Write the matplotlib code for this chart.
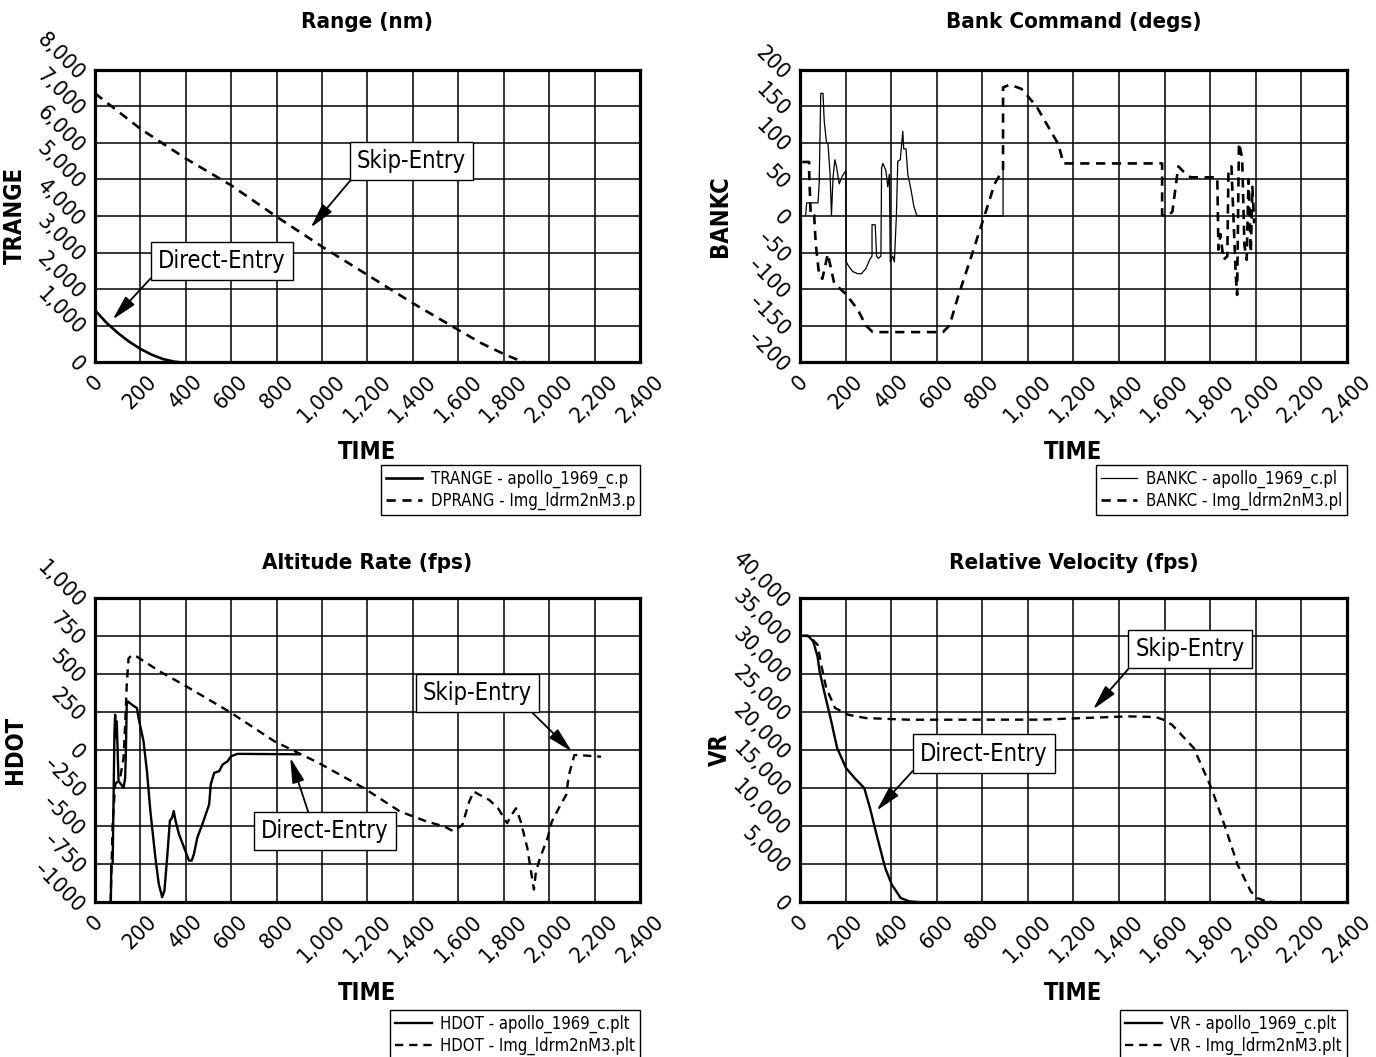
import matplotlib
matplotlib.use("Agg")
from matplotlib import pyplot as plt

plt.rcParams["font.family"] = ["DejaVu Sans"]
plt.rcParams["font.stretch"] = "condensed"

# --- Range (nm) ---
t_trange = [0, 50, 100, 150, 200, 250, 300, 350, 365]
trange = [1420, 1080, 800, 560, 360, 200, 80, 10, 0]
t_dprang = [0, 200, 400, 600, 800, 1000, 1200, 1400, 1600, 1700, 1800, 1850, 1890]
dprang = [7360, 6390, 5573, 4840, 3980, 3160, 2386, 1610, 880, 520, 220, 90, 0]

# --- Bank Command (degs) ---
t_bank_a = [25, 29, 40, 79, 84, 91, 101, 106, 116, 123, 132, 138, 145, 153, 160, 172, 186,
            201, 203, 212, 231, 253, 270, 289, 307, 316, 316, 330, 336, 343, 355, 358, 364,
            377, 385, 392, 396, 407, 414, 423, 429, 440, 451, 455, 465, 473, 487, 499, 510,
            515, 891, 891]
bank_a = [1, 18, 18, 18, 44, 168, 168, 131, 101, 98, 57, 1, 53, 77, 68, 44, 55,
          62, -63, -68, -76, -79, -79, -72, -59, -55, -12, -12, -55, -58, -55, 66, 72,
          62, 40, 57, -63, -55, -63, 1, 75, 77, 116, 92, 92, 57, 36, 14, 3,
          0, 0, 65]
t_bank_b = [10, 40, 40, 47, 62, 69, 84, 98, 122, 150, 201, 253, 289, 319, 627, 656, 693,
            752, 808, 854, 891, 891, 921, 972, 1038, 1097, 1134, 1156, 1589, 1589, 1618,
            1634, 1660, 1685, 1714, 1831, 1836, 1845, 1858, 1875, 1880, 1893, 1912, 1918,
            1926, 1940, 1950, 1960, 1968, 1978, 1985, 1993]
bank_b = [74, 74, 62, 1, 1, -38, -81, -86, -52, -92, -107, -128, -150, -159, -159, -150, -111,
          -55, -1, 44, 64, 176, 180, 174, 150, 118, 98, 72, 72, 1, 1,
          6, 68, 60, 53, 53, -46, -25, -60, -55, 62, 68, -80, -108,
          100, 80, -40, -60, 50, -50, 40, -10]

# --- Altitude Rate (fps) ---
t_hdot_a = [70, 72, 78, 86, 89, 93, 96, 104, 126, 133, 136, 140, 145, 163, 185, 192, 214,
            229, 244, 266, 281, 296, 306, 318, 330, 340, 347, 355, 370, 392, 414, 426, 436,
            451, 473, 503, 510, 525, 547, 562, 584, 599, 628, 900]
hdot_a = [-1000, -749, -749, 123, 232, 79, 188, -204, -248, -183, -29, 298, 320, 298, 276, 210, 57,
          -139, -401, -706, -881, -968, -925, -706, -466, -444, -401, -466, -553, -640, -727, -727, -684,
          -575, -488, -357, -226, -150, -139, -96, -74, -41, -25, -28]
t_hdot_b = [69, 78, 89, 111, 126, 133, 140, 148, 163, 185, 288, 392, 591, 791, 880, 988, 1185,
            1343, 1461, 1539, 1579, 1618, 1648, 1668, 1700, 1736, 1775, 1815, 1835, 1854, 1875,
            1904, 1933, 1942, 1960, 1993, 2012, 2050, 2075, 2087, 2111, 2130, 2229]
hdot_b = [-1000, -488, -227, -183, -52, 166, 428, 603, 625, 614, 515, 428, 253, 57, -8, -87, -251,
          -404, -470, -503, -535, -492, -339, -273, -300, -328, -383, -481, -426, -383, -470,
          -645, -918, -798, -710, -579, -470, -361, -295, -164, -33, -33, -44]

# --- Relative Velocity (fps) ---
t_vr_a = [0, 35, 58, 77, 86, 106, 134, 163, 202, 240, 282, 307, 336, 374, 403, 442, 480, 518]
vr_a = [35040, 35040, 34300, 32300, 30350, 27700, 24200, 20260, 17630, 16300, 15000, 12370,
        8860, 4470, 2280, 526, 88, 0]
t_vr_b = [0, 40, 77, 96, 115, 154, 211, 288, 480, 1056, 1440, 1560, 1594, 1632, 1728, 1805,
          1862, 1920, 1978, 2006, 2040, 2074]
vr_b = [35040, 35000, 33860, 30790, 28160, 25530, 24650, 24210, 23990, 24000, 24430, 24350,
        24000, 23330, 20260, 15000, 10180, 4910, 1400, 526, 150, 0]

time_ticks = list(range(0, 2401, 200))
dash = (0, (3.5, 2.5))


def fmt(v):
    s = f"{abs(v):,}"
    return ("\u2013" + s) if v < 0 else s


def setup(ax, title, ylabel, yticks, ylabels, legend_labels, lines, title_y, xlab_y, leg_y):
    ax.set_xlim(0, 2400)
    ax.set_ylim(yticks[0], yticks[-1])
    ax.set_xticks(time_ticks)
    ax.set_xticklabels([fmt(v) for v in time_ticks], rotation=45, ha="center", va="top", fontsize=16)
    ax.set_yticks(yticks)
    ax.set_yticklabels(ylabels, rotation=-45, rotation_mode="anchor", ha="right", va="top", fontsize=16)
    ax.tick_params(axis="x", length=0, pad=7)
    ax.tick_params(axis="y", length=0, pad=5)
    ax.grid(True, color="black", lw=1.1)
    ax.set_axisbelow(True)
    for s in ax.spines.values():
        s.set_linewidth(2.3)
    ax.text(0.5, title_y, title, transform=ax.transAxes, ha="center", va="center",
            fontsize=16, fontweight="bold")
    ax.set_xlabel("TIME", fontsize=17, fontweight="bold")
    ax.xaxis.set_label_coords(0.5, xlab_y)
    ax.set_ylabel(ylabel, fontsize=17, fontweight="bold")
    ax.yaxis.set_label_coords(-0.125, 0.5)
    leg = ax.legend(lines, legend_labels, loc="upper right", bbox_to_anchor=(1.0, leg_y),
                    fontsize=12, frameon=True, fancybox=False, framealpha=1, edgecolor="black",
                    borderaxespad=0, borderpad=0.3, labelspacing=0.2, handlelength=2.2,
                    handletextpad=0.5)
    leg.get_frame().set_linewidth(1.0)


def note(ax, text, tip, pos, relpos):
    ax.annotate(text, xy=tip, xytext=pos, ha="center", va="center", fontsize=17,
                bbox=dict(boxstyle="square,pad=0.3", fc="white", ec="black", lw=1.0),
                arrowprops=dict(arrowstyle="-|>,head_length=0.9,head_width=0.22", color="black",
                                lw=1.3, relpos=relpos, shrinkA=0, shrinkB=0),
                zorder=5)


fig = plt.figure(figsize=(13.76, 10.57), dpi=100)
ax1 = fig.add_axes([0.0690, 0.6575, 0.3961, 0.2763])
ax2 = fig.add_axes([0.5814, 0.6575, 0.3975, 0.2763])
ax3 = fig.add_axes([0.0690, 0.1466, 0.3961, 0.2876])
ax4 = fig.add_axes([0.5814, 0.1466, 0.3975, 0.2876])

# Range
l1, = ax1.plot(t_trange, trange, color="black", lw=1.9)
l2, = ax1.plot(t_dprang, dprang, color="black", lw=1.9, linestyle=dash)
yt = list(range(0, 8001, 1000))
setup(ax1, "Range (nm)", "TRANGE", yt, [fmt(v) for v in yt],
      ["TRANGE - apollo_1969_c.p", "DPRANG - Img_ldrm2nM3.p"], [l1, l2], 1.164, -0.267, -0.353)
note(ax1, "Skip-Entry", (950, 3680), (1393, 5510), (0, 0))
note(ax1, "Direct-Entry", (78, 1165), (560, 2760), (0, 0.13))

# Bank
l1, = ax2.plot(t_bank_a, bank_a, color="black", lw=0.9)
l2, = ax2.plot(t_bank_b, bank_b, color="black", lw=1.9, linestyle=dash)
yt = list(range(-200, 201, 50))
setup(ax2, "Bank Command (degs)", "BANKC", yt, [fmt(v) for v in yt],
      ["BANKC - apollo_1969_c.pl", "BANKC - Img_ldrm2nM3.pl"], [l1, l2], 1.164, -0.267, -0.353)

# Altitude rate
l1, = ax3.plot(t_hdot_a, hdot_a, color="black", lw=1.7)
l2, = ax3.plot(t_hdot_b, hdot_b, color="black", lw=1.7, linestyle=dash)
yt = list(range(-1000, 1001, 250))
ylab = [fmt(v) for v in yt]
ylab[0] = "\u20131000"
setup(ax3, "Altitude Rate (fps)", "HDOT", yt, ylab,
      ["HDOT - apollo_1969_c.plt", "HDOT - Img_ldrm2nM3.plt"], [l1, l2], 1.115, -0.261, -0.355)
note(ax3, "Skip-Entry", (2100, -10), (1685, 375), (0.93, 0))
note(ax3, "Direct-Entry", (860, -50), (1012, -535), (0.39, 1))

# Relative velocity
l1, = ax4.plot(t_vr_a, vr_a, color="black", lw=1.7)
l2, = ax4.plot(t_vr_b, vr_b, color="black", lw=1.7, linestyle=dash)
yt = list(range(0, 40001, 5000))
setup(ax4, "Relative Velocity (fps)", "VR", yt, [fmt(v) for v in yt],
      ["VR - apollo_1969_c.plt", "VR - Img_ldrm2nM3.plt"], [l1, l2], 1.115, -0.261, -0.355)
note(ax4, "Skip-Entry", (1286, 25360), (1711, 33300), (0, 0))
note(ax4, "Direct-Entry", (336, 12030), (808, 19540), (0, 0.12))

fig.savefig("out.png", dpi=100)
